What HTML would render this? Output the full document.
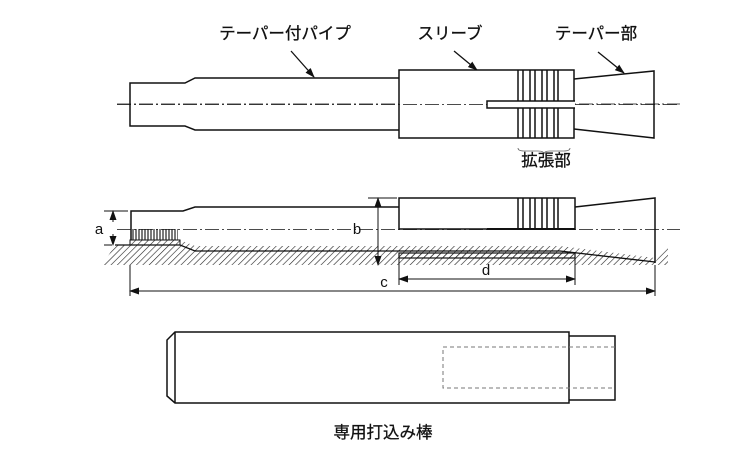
<!DOCTYPE html>
<html><head><meta charset="utf-8"><style>
body{margin:0;background:#fff}
svg{display:block}
text{font-family:"Liberation Sans","Noto Sans CJK JP",sans-serif;fill:#111}
</style></head><body>
<svg width="750" height="450" viewBox="0 0 750 450" xmlns="http://www.w3.org/2000/svg">
<defs>
<pattern id="h" width="4.5" height="4.5" patternUnits="userSpaceOnUse" patternTransform="rotate(45)">
<line x1="0" y1="0" x2="0" y2="4.5" stroke="#222" stroke-width="1.2"/></pattern>
<pattern id="t" width="3" height="10" patternUnits="userSpaceOnUse">
<line x1="1" y1="0" x2="1" y2="10" stroke="#222" stroke-width="1.2"/></pattern>
<marker id="ar" markerWidth="10" markerHeight="10" refX="9" refY="4" orient="auto" markerUnits="userSpaceOnUse"><path d="M0,0.5 L10,4 L0,7.5z" fill="#111"/></marker>
</defs>
<g fill="none" stroke="#111" stroke-width="1.5">
<line x1="117" y1="104" x2="680" y2="104" stroke-width="0.8" stroke-dasharray="14,3,2,3"/>
<path d="M399,78 H195 L185,83 H130 V126 H185 L195,130 H399"/>
<rect x="399" y="70" width="175" height="68" fill="#fff"/>
<path d="M518,70V138M523,70V138M530,70V138M535,70V138M542,70V138M547,70V138M554,70V138M558,70V138"/>
<path d="M575,101H487V108H575" fill="#fff"/>
<line x1="117" y1="104.5" x2="487" y2="104.5" stroke-width="0.8" stroke-dasharray="14,3,2,3"/>
<line x1="575" y1="104.5" x2="680" y2="104.5" stroke-width="0.8" stroke-dasharray="14,3,2,3"/>
<path d="M574,79 L654,71 V138 L574,129"/>
<path d="M518,148 q0,3 6,3 h14 q6,0 6,3 q0,-3 6,-3 h14 q6,0 6,-3" stroke-width="0.8" stroke="#666"/>
</g>
<g stroke="#111" stroke-width="1.3">
<line x1="291" y1="51" x2="314" y2="77" marker-end="url(#ar)"/>
<line x1="454" y1="51" x2="477" y2="70" marker-end="url(#ar)"/>
<line x1="598" y1="52" x2="624" y2="73" marker-end="url(#ar)"/>
</g>
<g font-size="16.5" stroke="#111" stroke-width="0.3">
<text x="285" y="39" text-anchor="middle">テーパー付パイプ</text>
<text x="450" y="39" text-anchor="middle">スリーブ</text>
<text x="596" y="39" text-anchor="middle">テーパー部</text>
<text x="546" y="166" text-anchor="middle">拡張部</text>
</g>
<path d="M103,264 L115,245 H183 L195,250 H560 L655,262 L668,246 V265 H103z" fill="url(#h)"/>
<rect x="130" y="240" width="50" height="5" fill="url(#h)" stroke="#111" stroke-width="1"/>
<path d="M180,245 L195,251 H560 L655,263 V258 L560,246 H195 L180,240" fill="url(#h)"/>
<path d="M115,245 H180 L195,251 H560 L655,262" fill="none" stroke="#111" stroke-width="1.3"/>
<rect x="131" y="229" width="47" height="11" fill="url(#t)"/>
<rect x="399" y="253" width="176" height="5" fill="url(#h)" stroke="#111" stroke-width="1.2"/>
<g fill="none" stroke="#111" stroke-width="1.5">
<path d="M399,207 H195 L183,211 H131 V240"/>
<rect x="399" y="198" width="176" height="31" fill="#fff"/>
<path d="M518,198V229M523,198V229M530,198V229M535,198V229M542,198V229M547,198V229M554,198V229M558,198V229"/>
<path d="M487,229H575" stroke-width="2"/>
<path d="M575,207 L655,198 V263"/>
</g>
<line x1="117" y1="229.5" x2="680" y2="229.5" stroke="#111" stroke-width="0.8" stroke-dasharray="14,3,2,3"/>
<g stroke="#111" stroke-width="1">
<line x1="104" y1="211" x2="128" y2="211"/><line x1="104" y1="245" x2="112" y2="245"/>
<line x1="113" y1="222" x2="113" y2="211" marker-end="url(#ar)"/>
<line x1="113" y1="234" x2="113" y2="245" marker-end="url(#ar)"/>
<line x1="368" y1="198" x2="397" y2="198"/>
<line x1="378" y1="230" x2="378" y2="198" marker-end="url(#ar)"/>
<line x1="378" y1="230" x2="378" y2="265" marker-end="url(#ar)"/>
<line x1="130" y1="265" x2="130" y2="296"/><line x1="655" y1="265" x2="655" y2="296"/>
<line x1="399" y1="258" x2="399" y2="285"/><line x1="575" y1="258" x2="575" y2="285"/>
<line x1="487" y1="279" x2="399" y2="279" marker-end="url(#ar)"/>
<line x1="487" y1="279" x2="575" y2="279" marker-end="url(#ar)"/>
<line x1="390" y1="291" x2="130" y2="291" marker-end="url(#ar)"/>
<line x1="390" y1="291" x2="655" y2="291" marker-end="url(#ar)"/>
</g>
<text x="99" y="234" font-size="15" text-anchor="middle">a</text>
<text x="357" y="234" font-size="15" text-anchor="middle">b</text>
<text x="486" y="275" font-size="15" text-anchor="middle">d</text>
<text x="384" y="287" font-size="15" text-anchor="middle">c</text>
<g fill="none" stroke="#111" stroke-width="1.5">
<path d="M175,332 H569 V403 H175 L167,396 V340z"/>
<line x1="175" y1="332" x2="175" y2="403"/>
<path d="M569,336 H615 V400 H569"/>
<path d="M615,347 H443 V388 H615" stroke="#777" stroke-width="1" stroke-dasharray="4,3"/>
</g>
<text x="383" y="438" font-size="16.5" text-anchor="middle" stroke="#111" stroke-width="0.3">専用打込み棒</text>
</svg>
</body></html>
